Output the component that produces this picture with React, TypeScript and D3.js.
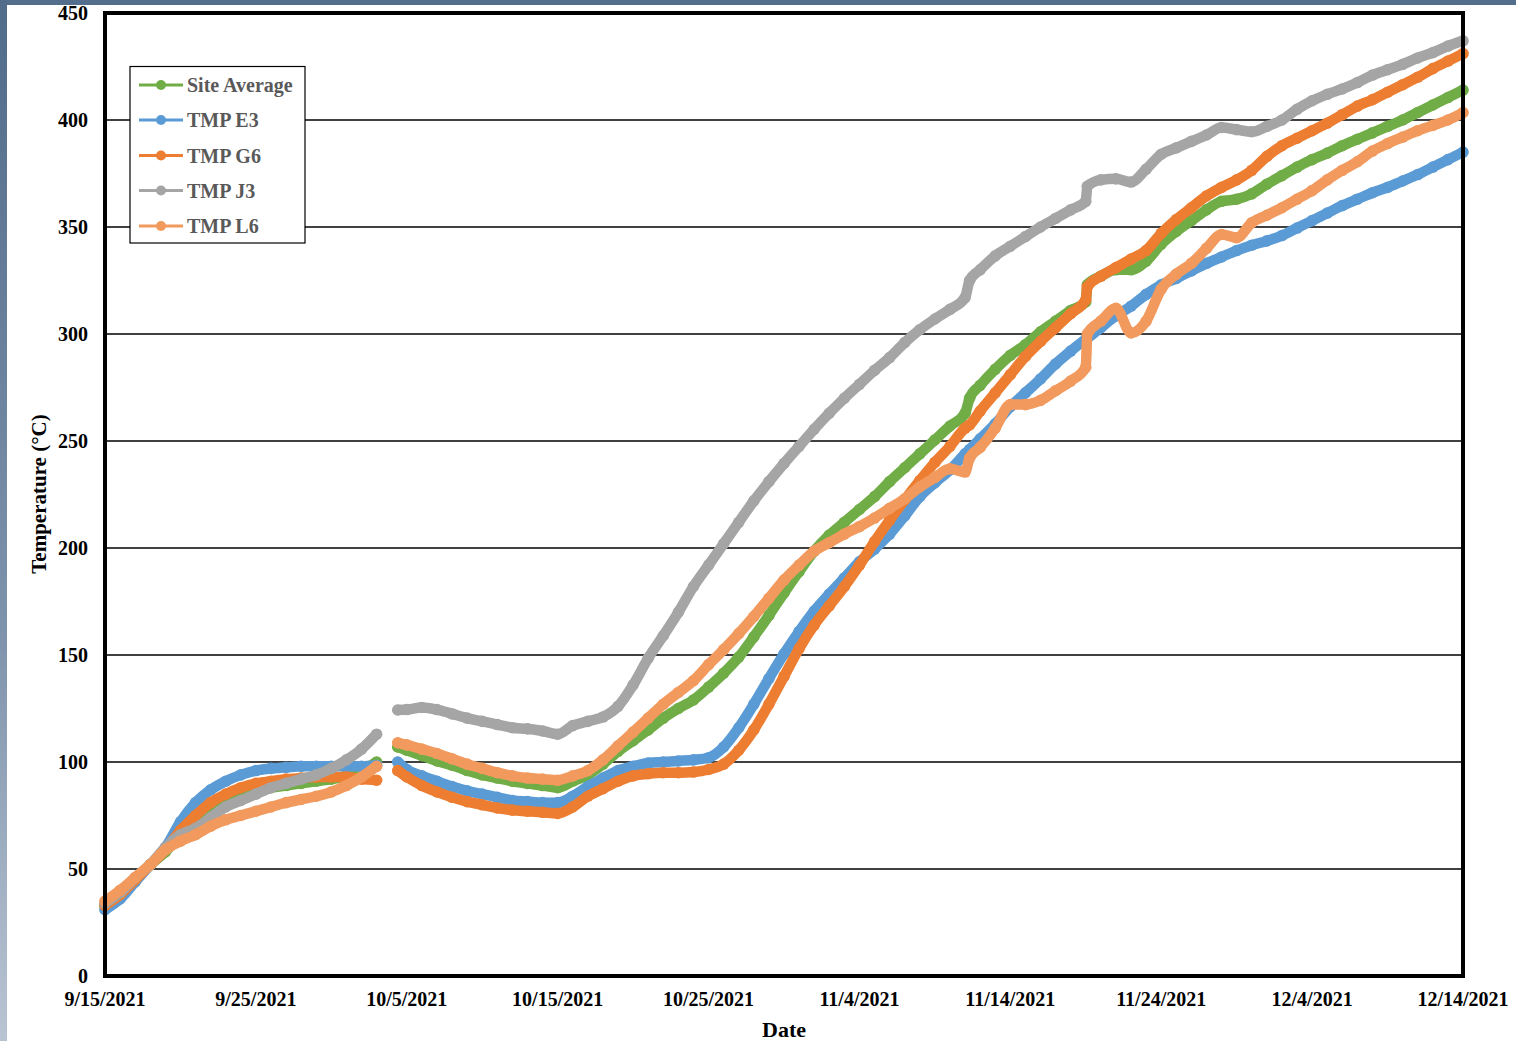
import React from "react";
import * as d3 from "d3";

// ---- data (day offsets from 9/15/2021) ----
const dayOffsets: number[] = [
  0, 1, 2, 3, 4, 5, 6, 7, 8, 9, 10, 11, 12, 13, 14, 15, 16, 17, 18,
  19,
  19.4,
  20, 21, 22, 23, 24, 25, 26, 27, 28, 29, 30, 31, 32, 33, 34, 35, 36, 37, 38, 39,
  40, 41, 42, 43, 44, 45, 46, 47, 48, 49, 50, 51, 52, 53, 54, 55, 56, 57,
  57.3,
  58, 59, 60, 61, 62, 63, 64, 65,
  65.1,
  66, 67, 68, 69, 70, 71, 72, 73, 74, 75, 76, 77, 78, 79, 80, 81, 82, 83, 84, 85, 86, 87, 88, 89, 90,
];

const siteAverage: (number | null)[] = [
  33, 38, 45, 52, 58, 66, 71, 77, 81, 84, 86, 88, 89, 90, 91, 92, 93.5, 96, 100,
  null,
  107,
  105.5, 103, 100.5, 98.5, 96, 94, 92.5, 91, 90, 89, 88, 91, 94, 99, 105, 110, 115, 120.5, 125, 129,
  135, 141.5, 149, 158.5, 168.5, 179, 189, 198.5, 206, 212, 218, 224, 231, 237.5, 244, 250.5, 257, 263,
  270,
  276, 283.5, 290, 295, 301, 306, 311, 315,
  323,
  327, 330, 330, 334, 342, 348, 353, 358, 362, 363, 365.5, 370, 374, 378, 381.5, 384.5, 388, 391, 394, 397, 400, 403.5, 407, 410.5, 414,
];

const tmpE3: (number | null)[] = [
  31, 36, 44, 52, 60, 72, 81, 87, 91, 94, 96, 97, 97.5, 98, 98, 98, 98, 98, 98.5,
  null,
  100,
  96.5, 93.5, 91, 88.5, 86.5, 85, 83.5, 82, 81.5, 81, 81, 84, 88.5, 92.5, 96, 98, 99.5, 100, 100.5, 101,
  102, 107, 116, 127, 139, 150.5, 161, 170.5, 178.5, 186, 193.5, 199.5, 206.5, 215, 224, 230.5, 236.5, 244,
  246,
  251, 258, 266, 272.5, 279, 286, 292, 297.5,
  298,
  303, 308.5, 313, 318.5, 323, 326, 329.5, 333, 336, 339, 341.5, 343.5, 346, 349.5, 353, 356.5, 360, 363, 366, 368.5, 371.5, 374.5, 378, 381.5, 385,
];

const tmpG6: (number | null)[] = [
  33, 38, 45, 52, 59, 68, 75, 81, 85, 88, 90, 91, 92, 92.5, 93, 93, 93, 92, 91.5,
  null,
  96,
  93, 89, 86, 83.5, 81.5, 80, 78.5, 77.5, 77, 76.5, 76, 79, 84, 87.5, 91, 93.5, 94.5, 95, 95, 95.3,
  96.5, 99, 105.5, 115, 127, 140, 153, 164, 173, 182, 192, 203, 213, 222.5, 231.5, 240, 247.5, 256,
  257.5,
  264, 272.5, 281, 289.5, 296.5, 303, 309.5, 316,
  322,
  327, 331, 335, 339, 347, 353.5, 359, 364.5, 368.5, 372, 376.5, 383, 388, 391.5, 395, 398.5, 402.5, 406.5, 409.5, 413, 416.5, 420, 424, 427.5, 431,
];

const tmpJ3: (number | null)[] = [
  34, 39, 46, 52, 60, 66, 69, 74, 79, 82, 85, 88, 90, 92, 94, 97, 101, 106, 113,
  null,
  124.3,
  124.5, 125.5, 124.5, 122.5, 120.5, 119, 117.5, 116, 115.5, 114.5, 113, 117, 119, 121, 126, 136, 148.5, 159, 170, 182,
  192, 202, 212, 222, 231, 239.5, 247.5, 255.5, 263, 270, 276.5, 283, 289, 296, 302, 307, 311.5, 317,
  325,
  330, 336.5, 341, 345.5, 350, 354, 358, 362,
  369,
  372, 372.5, 371, 377, 384, 387, 390, 393, 396.5, 395.5, 394.5, 397, 400, 405, 409, 412, 414.5, 417.5, 421, 423.5, 426, 429, 431.5, 434.5, 437,
];

const tmpL6: (number | null)[] = [
  35, 40, 46, 52, 59, 63, 66, 70, 73, 75, 77, 79, 81, 82.5, 84, 86, 89, 93, 98,
  null,
  109,
  108, 106, 104, 101.5, 99, 97, 95, 93.5, 92.5, 92, 91.5, 93.5, 96, 101, 107.5, 114, 120.5, 127, 132.5, 138,
  145.5, 152.5, 160, 168, 176.5, 185, 192, 198.5, 202.5, 206.5, 210, 214, 218.5, 223, 228.5, 233, 237, 235.5,
  242,
  247, 256, 267, 267, 269, 273.5, 278, 284.5,
  300,
  306, 312, 300.5, 306, 321, 328, 333, 340, 346.5, 345, 352, 355.5, 359, 363, 367, 372, 376.5, 380.5, 385.5, 389, 392, 395, 397.5, 400, 403.5,
];

const seriesNames = ["Site Average", "TMP E3", "TMP G6", "TMP J3", "TMP L6"];
const seriesColors = ["#70AD47", "#5B9BD5", "#ED7D31", "#A5A5A5", "#F29A5E"];
const seriesValues = [siteAverage, tmpE3, tmpG6, tmpJ3, tmpL6];

const xTickLabels = [
  "9/15/2021", "9/25/2021", "10/5/2021", "10/15/2021", "10/25/2021",
  "11/4/2021", "11/14/2021", "11/24/2021", "12/4/2021", "12/14/2021",
];
const yTicks = [0, 50, 100, 150, 200, 250, 300, 350, 400, 450];

const DAY = 86400000;
const start = Date.UTC(2021, 8, 15);

export default function App() {
  const W = 1516;
  const H = 1041;
  const left = 105, right = 1463, top = 13, bottom = 976;
  const font = "'Liberation Serif', 'Times New Roman', serif";

  const x = d3
    .scaleUtc()
    .domain([new Date(start), new Date(start + 90 * DAY)])
    .range([left, right]);
  const y = d3.scaleLinear().domain([0, 450]).range([bottom, top]);

  const xTicks = d3.range(0, 91, 10).map((d) => new Date(start + d * DAY));

  type P = { t: Date; v: number | null };
  const line = d3
    .line<P>()
    .defined((p) => p.v != null)
    .x((p) => x(p.t))
    .y((p) => y(p.v as number))
    .curve(d3.curveMonotoneX);

  const series = seriesValues.map((vals, i) => ({
    name: seriesNames[i],
    color: seriesColors[i],
    pts: vals.map((v, k) => ({ t: new Date(start + dayOffsets[k] * DAY), v })) as P[],
  }));

  const legendRows = [85, 120, 155.5, 190.5, 226];

  return (
    <svg
      width={W}
      height={H}
      style={{ position: "absolute", left: 0, top: 0, display: "block" }}
      fontFamily={font}
    >
      <defs>
        <linearGradient id="sideGrad" x1="0" y1="0" x2="0" y2="1">
          <stop offset="0" stopColor="#516b8b" />
          <stop offset="0.6" stopColor="#7d92ab" />
          <stop offset="1" stopColor="#b9c4d2" />
        </linearGradient>
      </defs>
      <rect x={0} y={0} width={W} height={H} fill="#ffffff" />
      <rect x={0} y={0} width={W} height={5} fill="#536d8c" />
      <rect x={0} y={0} width={7} height={H} fill="url(#sideGrad)" />

      {/* gridlines */}
      {yTicks.slice(1, -1).map((t) => (
        <line key={t} x1={left} x2={right} y1={y(t)} y2={y(t)} stroke="#000" strokeWidth={1.3} />
      ))}

      {/* series */}
      {series.map((s) => (
        <g key={s.name}>
          <path
            d={line(s.pts) || ""}
            fill="none"
            stroke={s.color}
            strokeWidth={10.5}
            strokeLinejoin="round"
            strokeLinecap="round"
          />
          {s.pts
            .filter((p) => p.v != null)
            .map((p, k) => (
              <circle key={k} cx={x(p.t)} cy={y(p.v as number)} r={5.8} fill={s.color} />
            ))}
        </g>
      ))}

      {/* plot border */}
      <rect
        x={left}
        y={top}
        width={right - left}
        height={bottom - top}
        fill="none"
        stroke="#000"
        strokeWidth={4}
      />

      {/* y ticks */}
      {yTicks.map((t) => (
        <text
          key={t}
          x={88}
          y={y(t)}
          dy="0.35em"
          textAnchor="end"
          fontSize={20}
          fontWeight="bold"
          fill="#000"
        >
          {t}
        </text>
      ))}

      {/* x ticks */}
      {xTicks.map((d, i) => (
        <text
          key={i}
          x={x(d)}
          y={1006}
          textAnchor="middle"
          fontSize={20}
          fontWeight="bold"
          fill="#000"
        >
          {xTickLabels[i]}
        </text>
      ))}

      <text x={784} y={1037} textAnchor="middle" fontSize={22} fontWeight="bold" fill="#000">
        Date
      </text>
      <text
        transform={`translate(46,494) rotate(-90)`}
        textAnchor="middle"
        fontSize={21}
        fontWeight="bold"
        fill="#000"
      >
        Temperature (°C)
      </text>

      {/* legend */}
      <rect x={130} y={66.5} width={175} height={176.5} fill="#fff" stroke="#000" strokeWidth={1.2} />
      {series.map((s, i) => (
        <g key={s.name}>
          <line x1={139} x2={183} y1={legendRows[i]} y2={legendRows[i]} stroke={s.color} strokeWidth={3} />
          <circle cx={161} cy={legendRows[i]} r={5} fill={s.color} />
          <text
            x={187}
            y={legendRows[i]}
            dy="0.35em"
            fontSize={20}
            fontWeight="bold"
            fill="#595959"
          >
            {s.name}
          </text>
        </g>
      ))}
    </svg>
  );
}
